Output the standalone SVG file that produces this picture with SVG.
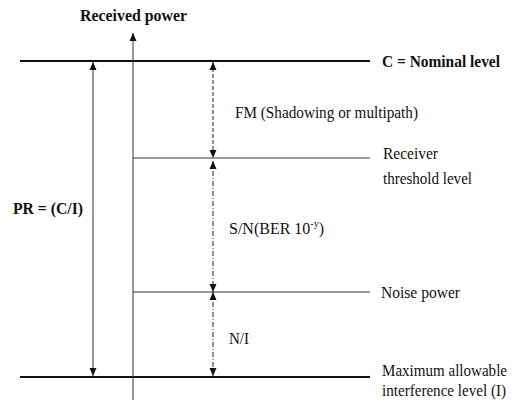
<svg xmlns="http://www.w3.org/2000/svg" width="519" height="401" viewBox="0 0 519 401">
<style>
text{font-family:'Times New Roman','Liberation Serif','DejaVu Serif',serif;font-size:16px;fill:#111}
.b{font-weight:bold}
.thick{stroke:#111;stroke-width:2;fill:none}
.thin{stroke:#333;stroke-width:1;fill:none}
.dash{stroke:#222;stroke-width:1;stroke-dasharray:4 2;fill:none}
.dd{stroke:#222;stroke-width:1;stroke-dasharray:5 2 1 2;fill:none}
</style>
<defs>
<marker id="ah" viewBox="0 0 8 8" refX="8" refY="4" markerWidth="8" markerHeight="8" markerUnits="userSpaceOnUse" orient="auto-start-reverse">
<path d="M0,0.5 L8,4 L0,7.5 Z" fill="#111"/>
</marker>
</defs>
<g id="levels">
<line class="thick" x1="20" y1="61" x2="370" y2="61"/>
<line class="thick" x1="20" y1="377" x2="370" y2="377"/>
<line class="thin" x1="133" y1="158" x2="370" y2="158"/>
<line class="thin" x1="133" y1="292" x2="370" y2="292"/>
</g>
<g id="connectors">
<line class="thin" x1="133" y1="400" x2="133" y2="33" marker-end="url(#ah)"/>
<line class="thin" x1="93" y1="62" x2="93" y2="376" marker-start="url(#ah)" marker-end="url(#ah)"/>
<line class="dash" x1="213" y1="62" x2="213" y2="158" marker-start="url(#ah)" marker-end="url(#ah)"/>
<line class="dd" x1="213" y1="161" x2="213" y2="292" marker-start="url(#ah)" marker-end="url(#ah)"/>
<line class="dd" x1="213" y1="292" x2="213" y2="376" marker-start="url(#ah)" marker-end="url(#ah)"/>
</g>
<g id="axis-label"><text class="b" x="80" y="21" textLength="107" lengthAdjust="spacingAndGlyphs">Received power</text></g>
<g id="nominal"><text class="b" x="382" y="67" textLength="118" lengthAdjust="spacingAndGlyphs">C = Nominal level</text></g>
<g id="fm"><text x="235" y="118" textLength="183" lengthAdjust="spacingAndGlyphs">FM (Shadowing or multipath)</text></g>
<g id="threshold"><text x="383" y="159" textLength="55" lengthAdjust="spacingAndGlyphs">Receiver</text><text x="383" y="184" textLength="89" lengthAdjust="spacingAndGlyphs">threshold level</text></g>
<g id="sn"><text x="229" y="234">S/N(BER 10<tspan dy="-7" style="font-size:10px">-y</tspan><tspan dy="7">)</tspan></text></g>
<g id="noise"><text x="381" y="298" textLength="79" lengthAdjust="spacingAndGlyphs">Noise power</text></g>
<g id="ni"><text x="229" y="344" textLength="20" lengthAdjust="spacingAndGlyphs">N/I</text></g>
<g id="interference"><text x="382" y="376" textLength="125" lengthAdjust="spacingAndGlyphs">Maximum allowable</text><text x="382" y="396" textLength="124" lengthAdjust="spacingAndGlyphs">interference level (I)</text></g>
<g id="pr"><text class="b" x="13" y="214" textLength="70" lengthAdjust="spacingAndGlyphs">PR = (C/I)</text></g>
</svg>
